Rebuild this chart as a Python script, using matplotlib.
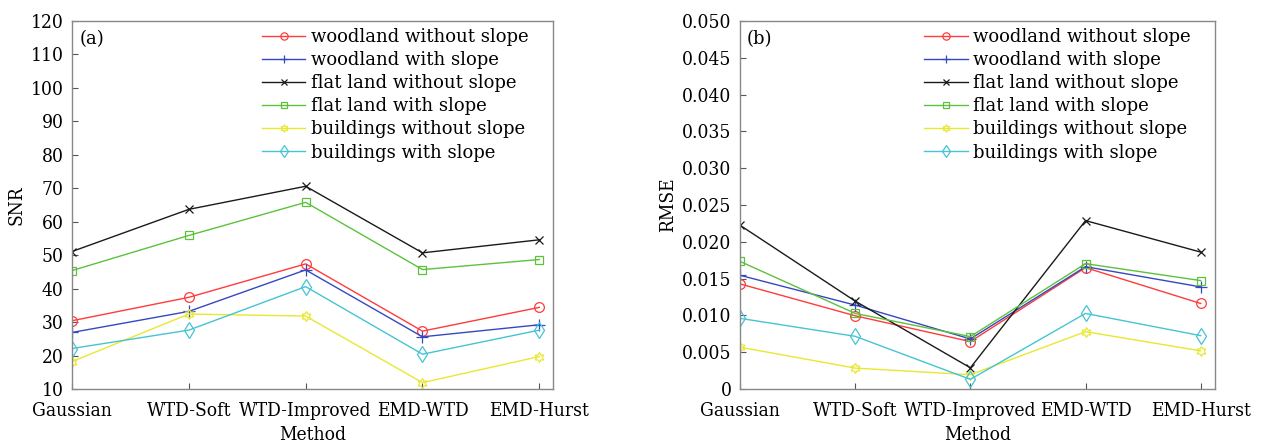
import numpy as np
import matplotlib
matplotlib.use("Agg")
import matplotlib.pyplot as plt
from matplotlib.path import Path
from matplotlib.font_manager import FontProperties

methods = ["Gaussian", "WTD-Soft", "WTD-Improved", "EMD-WTD", "EMD-Hurst"]
labels = ["woodland without slope", "woodland with slope", "flat land without slope",
          "flat land with slope", "buildings without slope", "buildings with slope"]

snr_woodland_noslope = [30.4, 37.4, 47.4, 27.3, 34.4]
snr_woodland_slope = [26.9, 33.2, 45.6, 25.6, 29.2]
snr_flat_noslope = [51.1, 63.7, 70.6, 50.7, 54.6]
snr_flat_slope = [45.4, 55.9, 65.8, 45.7, 48.7]
snr_build_noslope = [18.2, 32.4, 31.8, 11.9, 19.7]
snr_build_slope = [22.1, 27.6, 40.6, 20.4, 27.6]

rmse_woodland_noslope = [0.01428, 0.00995, 0.00644, 0.01649, 0.01162]
rmse_woodland_slope = [0.01545, 0.0114, 0.0068, 0.01662, 0.01387]
rmse_flat_noslope = [0.02225, 0.01194, 0.00288, 0.02288, 0.0186]
rmse_flat_slope = [0.01734, 0.01027, 0.00712, 0.01703, 0.01473]
rmse_build_noslope = [0.00568, 0.00284, 0.00194, 0.00779, 0.00518]
rmse_build_slope = [0.0096, 0.00716, 0.00131, 0.01027, 0.00725]

snr_series = [snr_woodland_noslope, snr_woodland_slope, snr_flat_noslope,
              snr_flat_slope, snr_build_noslope, snr_build_slope]
rmse_series = [rmse_woodland_noslope, rmse_woodland_slope, rmse_flat_noslope,
               rmse_flat_slope, rmse_build_noslope, rmse_build_slope]

# hexagram marker
ang = np.deg2rad(90 + np.arange(12) * 30)
rad = np.where(np.arange(12) % 2 == 0, 1.0, 1.0 / np.sqrt(3))
verts = np.column_stack([rad * np.cos(ang), rad * np.sin(ang)])
verts = np.vstack([verts, verts[:1]])
codes = [Path.MOVETO] + [Path.LINETO] * 11 + [Path.CLOSEPOLY]
hexagram = Path(verts, codes)

colors = ["#ff3b3b", "#3548c0", "#1a1a1a", "#5cc23c", "#e8e830", "#45c4d4"]
markers = ["o", "+", "x", "s", hexagram, "d"]
msizes = [7, 8.5, 6, 5.5, 7, 8.5]

plt.rcParams['font.family'] = ['DejaVu Serif']
plt.rcParams['font.size'] = 12.5

tickfp = FontProperties(family="DejaVu Serif", stretch="condensed", size=13.8)
legfp = FontProperties(family="DejaVu Serif", size=13)

fig = plt.figure(figsize=(12.7, 4.44), dpi=100)
ax1 = fig.add_axes([72 / 1270, 55 / 444, 481 / 1270, 368 / 444])
ax2 = fig.add_axes([740 / 1270, 55 / 444, 475 / 1270, 368 / 444])

x = np.arange(1, 6)

for ax, series, ylab, tag in [(ax1, snr_series, "SNR", "(a)"), (ax2, rmse_series, "RMSE", "(b)")]:
    for s, lab, c, m, ms in zip(series, labels, colors, markers, msizes):
        ax.plot(x, s, color=c, marker=m, markersize=ms, markerfacecolor="none",
                markeredgecolor=c, markeredgewidth=0.9, linewidth=1.0, label=lab)
    ax.set_xticks(x)
    ax.set_xticklabels(methods, fontproperties=tickfp)
    ax.set_xlabel("Method", labelpad=5, fontproperties=tickfp)
    ax.set_ylabel(ylab, labelpad=4, fontproperties=tickfp)
    ax.tick_params(direction="in", length=4, color="#555555", width=0.8)
    ax.tick_params(axis="x", pad=9)
    ax.tick_params(axis="y", pad=6)
    for sp in ax.spines.values():
        sp.set_color("#888888")
        sp.set_linewidth(1.0)
    ax.text(0.015, 0.975, tag, transform=ax.transAxes, ha="left", va="top",
            fontproperties=legfp)
    ax.legend(loc="upper right", frameon=False, markerscale=0.75, handlelength=2.4,
              handletextpad=0.3, labelspacing=0.28, borderaxespad=0.0,
              bbox_to_anchor=(0.964, 1.0), prop=legfp)

ax1.set_xlim(1, 5.117)
ax1.set_ylim(10, 120)
ax1.set_yticks(np.arange(10, 121, 10))

ax2.set_xlim(1, 5.124)
ax2.set_ylim(0, 0.05)
rt = np.arange(0, 0.0501, 0.005)
ax2.set_yticks(rt)
ax2.set_yticklabels(["0"] + ["%.3f" % v for v in rt[1:]])

for ax in (ax1, ax2):
    for t in ax.get_yticklabels():
        t.set_fontproperties(tickfp)

fig.savefig("out.png", dpi=100)
